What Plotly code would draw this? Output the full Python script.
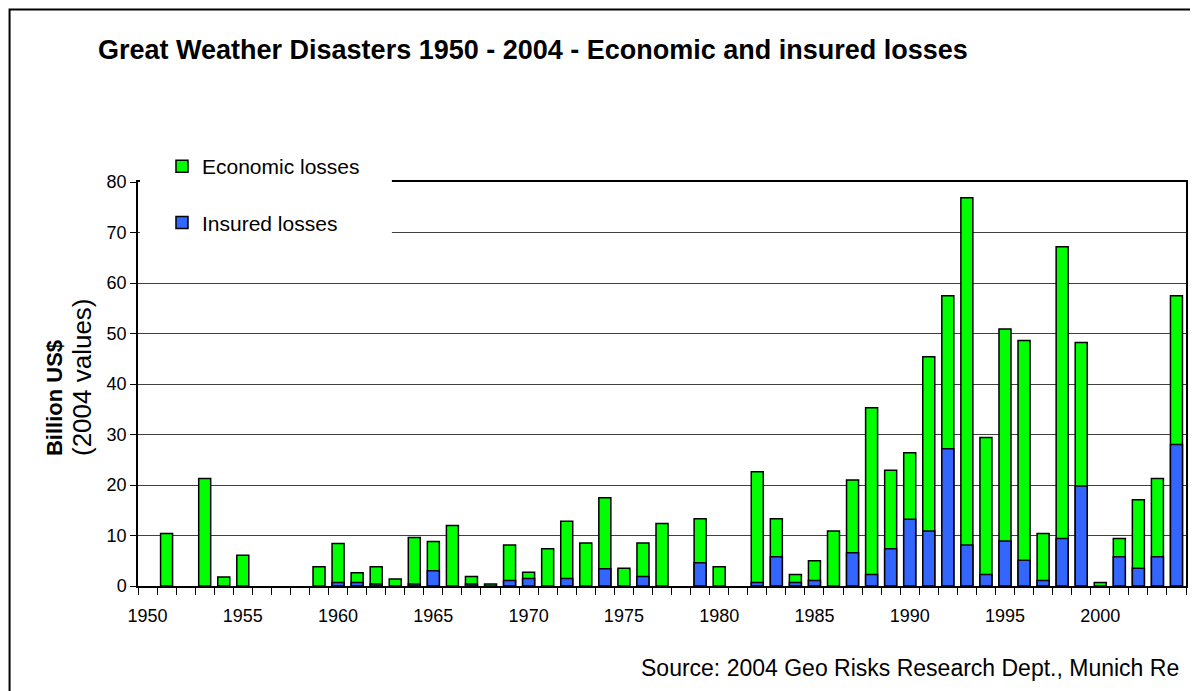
import plotly.graph_objects as go

years = list(range(1950, 2005))
economic = [None, 10.4, None, 21.3, 1.8, 6.1, None, None, None, 3.8,
            8.4, 2.6, 3.8, 1.4, 9.6, 8.8, 12.0, 1.9, 0.4, 8.1,
            2.7, 7.4, 12.8, 8.5, 17.5, 3.5, 8.5, 12.4, None, 13.3,
            3.8, None, 22.6, 13.3, 2.3, 5.0, 10.9, 21.0, 35.3, 22.9,
            26.4, 45.4, 57.5, 76.9, 29.4, 50.9, 48.6, 10.4, 67.2, 48.2,
            0.7, 9.4, 17.1, 21.3, 57.5]
insured = [None, None, None, None, None, None, None, None, None, None,
           0.7, 0.7, 0.4, None, 0.4, 3.0, None, 0.4, None, 1.1,
           1.5, None, 1.5, None, 3.4, None, 1.9, None, None, 4.6,
           None, None, 0.7, 5.8, 0.7, 1.1, None, 6.6, 2.3, 7.4,
           13.2, 10.9, 27.2, 8.1, 2.3, 8.9, 5.1, 1.1, 9.4, 19.8,
           None, 5.8, 3.5, 5.8, 28.0]
label_years = [1950, 1955, 1960, 1965, 1970, 1975, 1980, 1985, 1990, 1995, 2000]
y_ticks = [0, 10, 20, 30, 40, 50, 60, 70, 80]

# page body has an 8px margin; lay out in target-window pixels and shift
OFF = 8
W, H = 1198 - OFF, 691 - OFF
PL, PR, PT, PB = 138, 1186.5, 182, 586   # plot area in window pixels
ML = PL - OFF
MR = W - (PR - OFF)
MT = PT - OFF
MB = H - (PB - OFF)
PW = PR - PL
PH = PB - PT
def px(x):
    return (x - PL) / PW
def py(y):
    return (PB - y) / PH

FONT = "Arial, Liberation Sans, sans-serif"

fig = go.Figure()
fig.add_trace(go.Bar(x=years, y=economic, name="Economic losses",
                     marker=dict(color="#00FF00", line=dict(color="black", width=1.5)),
                     legendgroup="a", width=0.63))
fig.add_trace(go.Bar(x=years, y=insured, name="Insured losses",
                     marker=dict(color="#3366FF", line=dict(color="black", width=1.5)),
                     legendgroup="b", width=0.63))

fig.update_layout(
    width=W, height=H,
    margin=dict(l=ML, r=MR, t=MT, b=MB, autoexpand=False),
    barmode="overlay",
    paper_bgcolor="white", plot_bgcolor="white",
    font=dict(family=FONT, color="black", size=18),
    showlegend=True,
    legend=dict(x=px(162), y=py(146), xanchor="left", yanchor="top",
                bgcolor="rgba(0,0,0,0)", font=dict(size=21),
                tracegroupgap=26, itemwidth=30),
    xaxis=dict(range=[1949.5, 2004.5], tickmode="array", tickvals=label_years,
               ticktext=[str(v) for v in label_years],
               ticks="outside", ticklen=12, tickcolor="rgba(0,0,0,0)",
               minor=dict(tickmode="linear", tick0=1949.5, dtick=1, ticks="outside",
                          ticklen=7, tickcolor="black", tickwidth=1, showgrid=False),
               showline=True, linecolor="black", linewidth=2, mirror=True,
               showgrid=False, zeroline=False, tickfont=dict(size=18)),
    yaxis=dict(range=[0, 80], tickmode="array", tickvals=y_ticks,
               ticks="outside", ticklen=6, tickcolor="black",
               showline=True, linecolor="black", linewidth=1.5, mirror=True,
               showgrid=True, gridcolor="#404040", gridwidth=1, zeroline=False,
               tickfont=dict(size=18)),
)

shapes = [
    # white cover behind legend
    dict(type="rect", xref="paper", yref="paper", x0=px(140), x1=px(392), y0=py(258), y1=py(140),
         fillcolor="white", line=dict(width=0), layer="above"),
    # outer frame
    dict(type="rect", xref="paper", yref="paper", x0=px(9.5), x1=px(1194), y0=py(700), y1=py(9.5),
         fillcolor="rgba(0,0,0,0)", line=dict(color="black", width=2), layer="above"),
]
fig.update_layout(shapes=shapes)

fig.add_annotation(text="<b>Great Weather Disasters 1950 - 2004 - Economic and insured losses</b>",
                   xref="paper", yref="paper", x=px(96), y=py(50), xanchor="left", yanchor="middle",
                   showarrow=False, font=dict(size=27, family=FONT))
fig.add_annotation(text="<b>Billion US$</b><br><span style='font-size:26px'>(2004 values)</span>",
                   xref="paper", yref="paper", x=px(69), y=py(458), xanchor="center", yanchor="bottom",
                   textangle=-90, align="left", showarrow=False, font=dict(size=22, family=FONT))
fig.add_annotation(text="Source: 2004 Geo Risks Research Dept., Munich Re",
                   xref="paper", yref="paper", x=px(1181), y=py(668), xanchor="right", yanchor="middle",
                   showarrow=False, font=dict(size=23, family=FONT))

fig.write_html("out.html")
